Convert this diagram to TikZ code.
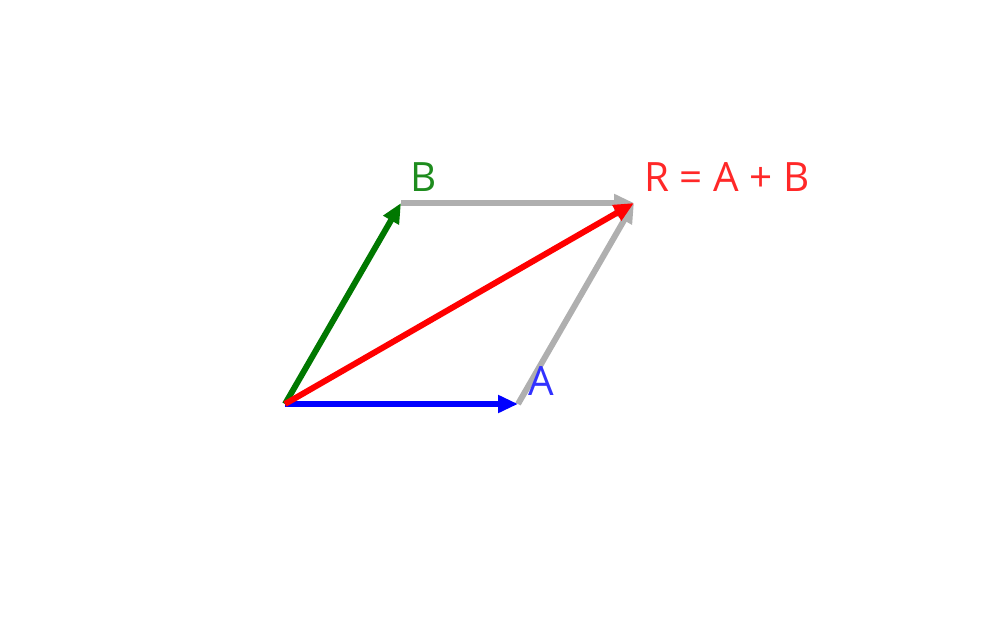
\documentclass[tikz,border=0pt]{standalone}
\usepackage{fontspec}
\setmainfont{Open Sans}
\usetikzlibrary{positioning, arrows.meta}
\definecolor{VecGreen}{RGB}{0,120,0}
\definecolor{LabGreen}{RGB}{30,140,30}
\definecolor{VecGray}{RGB}{175,175,175}
\definecolor{LabRed}{RGB}{255,40,40}
\definecolor{LabBlue}{RGB}{50,50,255}
\tikzset{
  VecLine/.style={line width=3.4pt, -{Triangle[length=4mm, width=3.4mm]}},
  VecLabel/.style={font=\fontsize{23}{27}\selectfont, inner sep=0pt}
}
\begin{document}
\begin{tikzpicture}
        \useasboundingbox (0,0) rectangle (20.16,12.84);
        % Points
        \coordinate (O) at (5.70,4.76);
        \coordinate (A) at (10.36,4.76);
        \coordinate (B) at (8.02,8.78);
        \coordinate (R) at (12.68,8.78);
        %-----------------------------------------------
        \draw[VecLine, VecGray] (B) -- (R);
        \draw[VecLine, VecGray] (A) -- (R);
        \draw[VecLine, VecGreen] (O) -- (B);
        \draw[VecLine, blue] (O) -- (A);
        \draw[VecLine, red] (O) -- (R);
        % Text
        \node[VecLabel, text=LabGreen, above right=0.52cm and 0.46cm of B, anchor=center] (labB) {B};
        \node[VecLabel, text=LabBlue, above right=0.46cm and 0.46cm of A, anchor=center] (labA) {A};
        \node[VecLabel, text=LabRed, above right=0.52cm and 1.86cm of R, anchor=center] (labR) {R = A + B};
\end{tikzpicture}
\end{document}
